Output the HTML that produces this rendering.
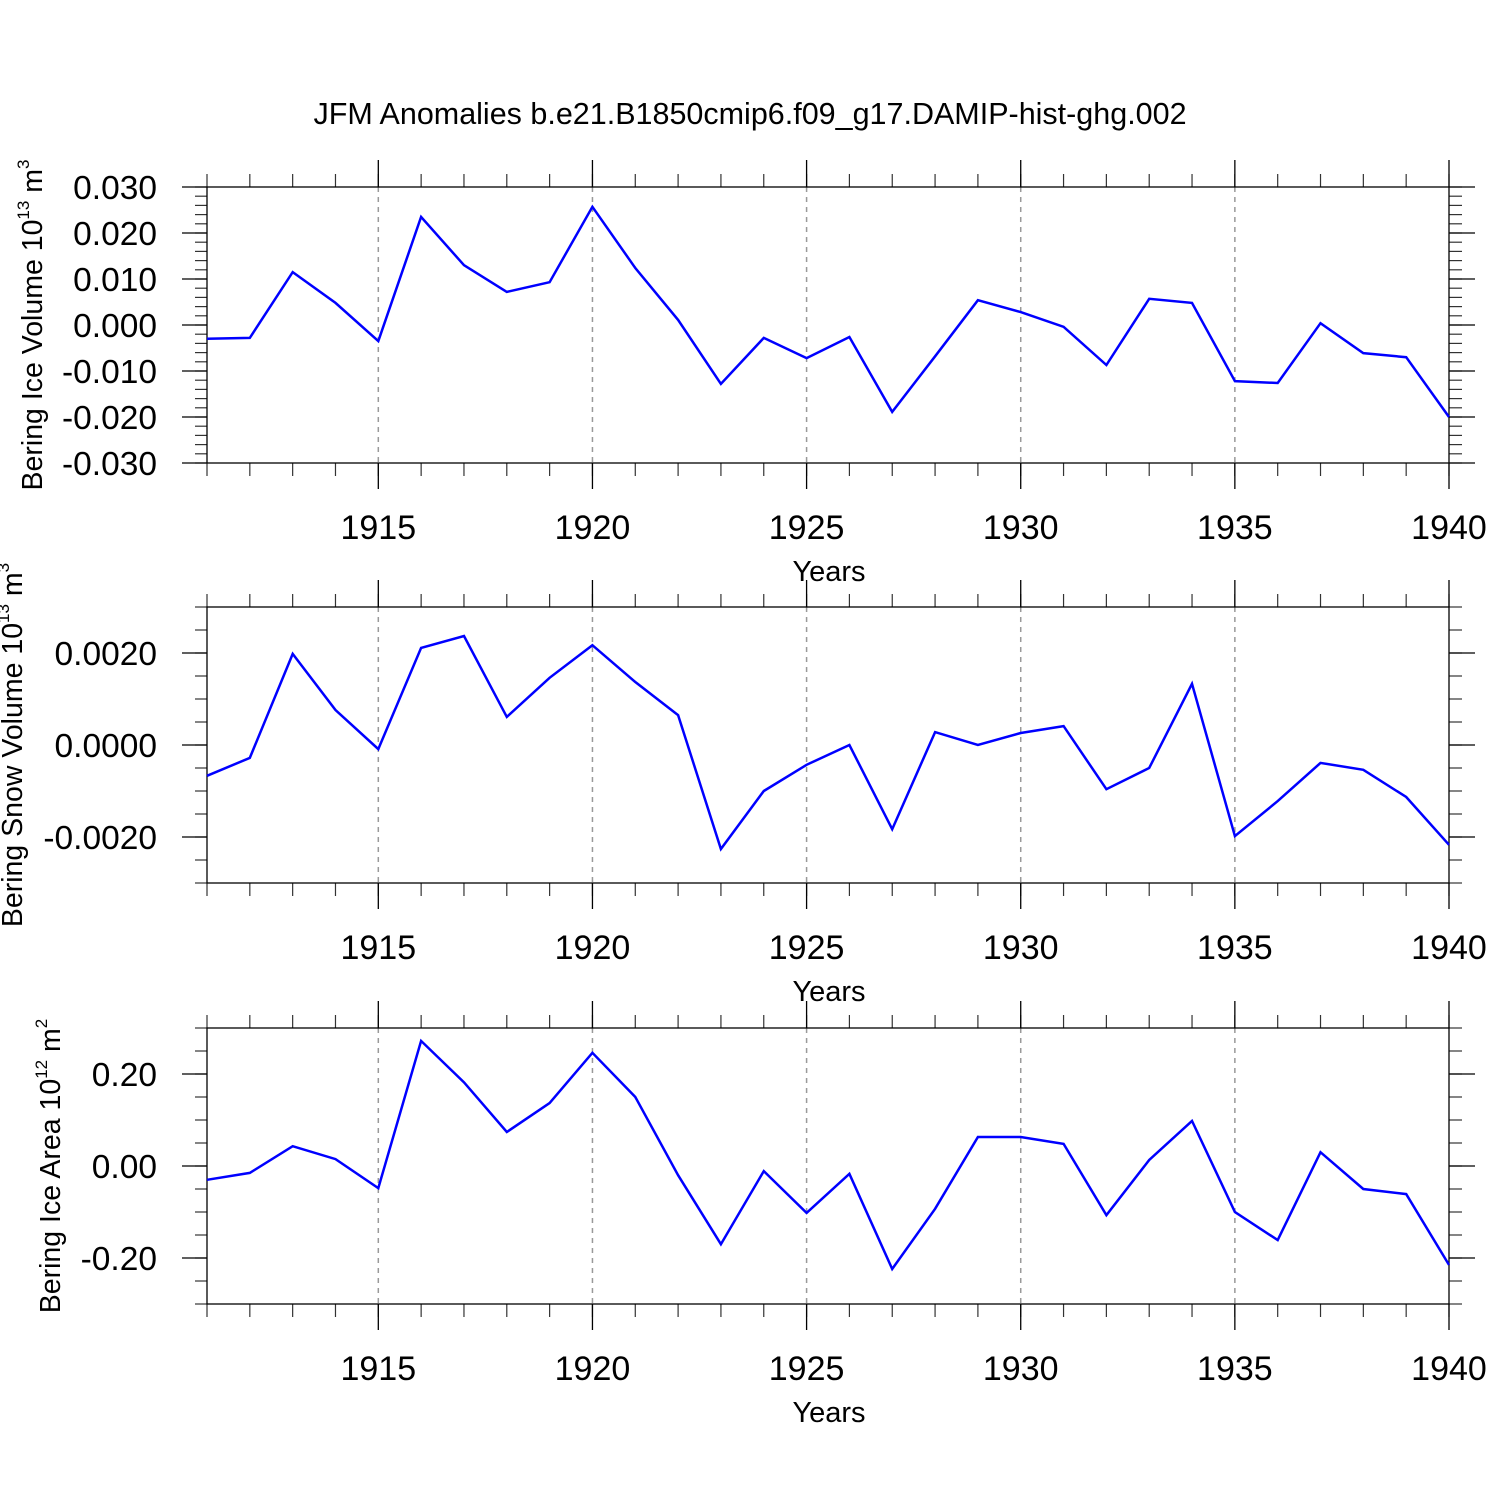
<!DOCTYPE html>
<html><head><meta charset="utf-8"><style>
body{margin:0;background:#fff}
svg{display:block;font-family:"Liberation Sans",sans-serif}
</style></head><body>
<svg id="chart" width="1500" height="1500" xmlns="http://www.w3.org/2000/svg">
<text x="750" y="124" font-size="30.5" text-anchor="middle">JFM Anomalies b.e21.B1850cmip6.f09_g17.DAMIP-hist-ghg.002</text>
</svg>
<script>
const years = [1911,1912,1913,1914,1915,1916,1917,1918,1919,1920,1921,1922,1923,1924,1925,1926,1927,1928,1929,1930,1931,1932,1933,1934,1935,1936,1937,1938,1939,1940];
const iceVolume = [-0.0030,-0.0028,0.0115,0.0048,-0.0035,0.0235,0.0130,0.0072,0.0093,0.0257,0.0124,0.0011,-0.0128,-0.0028,-0.0072,-0.0026,-0.0189,-0.0068,0.0054,0.0028,-0.0004,-0.0087,0.0057,0.0048,-0.0122,-0.0126,0.0004,-0.0061,-0.0070,-0.0200];
const snowVolume = [-0.00067,-0.00028,0.00198,0.00076,-0.00009,0.00211,0.00237,0.00061,0.00146,0.00217,0.00137,0.00065,-0.00226,-0.00100,-0.00043,0.0,-0.00183,0.00028,0.0,0.00026,0.00041,-0.00096,-0.00050,0.00133,-0.00198,-0.00122,-0.00039,-0.00054,-0.00113,-0.00217];
const iceArea = [-0.030,-0.015,0.043,0.015,-0.048,0.272,0.182,0.074,0.137,0.246,0.150,-0.020,-0.170,-0.011,-0.102,-0.017,-0.224,-0.093,0.063,0.063,0.048,-0.107,0.013,0.098,-0.100,-0.161,0.030,-0.050,-0.061,-0.215];
const xTickLabels = ["1915","1920","1925","1930","1935","1940"];
const yTicks1 = ["0.030","0.020","0.010","0.000","-0.010","-0.020","-0.030"];
const yTicks2 = ["0.0020","0.0000","-0.0020"];
const yTicks3 = ["0.20","0.00","-0.20"];

const NS="http://www.w3.org/2000/svg";
const svg=document.getElementById('chart');
function mk(tag,attrs,parent){const e=document.createElementNS(NS,tag);for(const k in attrs)e.setAttribute(k,attrs[k]);(parent||svg).appendChild(e);return e;}
const X0=207,X1=1449,XMIN=1911,XMAX=1940;
function xs(v){return X0+(v-XMIN)/(XMAX-XMIN)*(X1-X0);}

function panel(top,ymin,ymax,minorStep,ticks,data,title,titleX,sup,unit,name){
  const bot=top+276;
  const g=mk('g',{});
  
  
  const ys=v=>bot-(v-ymin)/(ymax-ymin)*(bot-top);
  xTickLabels.forEach(t=>{const x=xs(+t);if(x<X1-1){const l=mk('line',{x1:x,x2:x,y1:top,y2:bot,stroke:'#999','stroke-width':1.5,'stroke-dasharray':'5,5'},g);}});
  const n=Math.round((ymax-ymin)/minorStep);
  for(let i=0;i<=n;i++){const y=ys(ymin+i*minorStep);
    mk('line',{x1:X0-12,x2:X0,y1:y,y2:y,stroke:'#333','stroke-width':1.2},g);
    mk('line',{x1:X1,x2:X1+13,y1:y,y2:y,stroke:'#333','stroke-width':1.2},g);}
  ticks.forEach(t=>{const y=ys(parseFloat(t));
    mk('line',{x1:X0-25,x2:X0,y1:y,y2:y,stroke:'#000','stroke-width':1.3},g);
    mk('line',{x1:X1,x2:X1+26,y1:y,y2:y,stroke:'#000','stroke-width':1.3},g);
    const tx=mk('text',{x:157,y:y+12,'font-size':33.5,'text-anchor':'end'},g);tx.textContent=t;
    });
  years.forEach(yr=>{const x=xs(yr);
    mk('line',{x1:x,x2:x,y1:top-13,y2:top,stroke:'#333','stroke-width':1.2},g);
    mk('line',{x1:x,x2:x,y1:bot,y2:bot+13,stroke:'#333','stroke-width':1.2},g);});
  xTickLabels.forEach(t=>{const x=xs(+t);
    mk('line',{x1:x,x2:x,y1:top-27,y2:top,stroke:'#000','stroke-width':1.3},g);
    mk('line',{x1:x,x2:x,y1:bot,y2:bot+26,stroke:'#000','stroke-width':1.3},g);
    const tx=mk('text',{x:x,y:bot+76,'font-size':34,'text-anchor':'middle'},g);tx.textContent=t;
    });
  const fr=mk('rect',{x:X0,y:top,width:X1-X0,height:bot-top,fill:'none',stroke:'#000','stroke-width':1.3},g);
  
  const pts=data.map((v,i)=>xs(years[i]).toFixed(1)+','+ys(v).toFixed(1)).join(' ');
  const pl=mk('polyline',{points:pts,fill:'none',stroke:'#0000ff','stroke-width':2.5,'stroke-linejoin':'miter'},g);
  
  const xt=mk('text',{x:829,y:bot+118,'font-size':29,'text-anchor':'middle'},g);xt.textContent='Years';
  
  const cy=(top+bot)/2;
  const yt=mk('text',{x:0,y:0,'font-size':28.5,'text-anchor':'middle',transform:`translate(${titleX},${cy}) rotate(-90)`},g);
  
  const s1=mk('tspan',{},yt);s1.textContent=title+' 10';
  const s2=mk('tspan',{'font-size':17,dy:-13},yt);s2.textContent=sup;
  const s3=mk('tspan',{dy:13},yt);s3.textContent=' '+unit;
  const s4=mk('tspan',{'font-size':17,dy:-13},yt);s4.textContent=sup==='12'?'2':'3';
}
panel(187,-0.030,0.030,0.002,yTicks1,iceVolume,'Bering Ice Volume',42,'13','m','panel-ice-volume');
panel(607,-0.003,0.003,0.0005,yTicks2,snowVolume,'Bering Snow Volume',22,'13','m','panel-snow-volume');
panel(1028,-0.30,0.30,0.05,yTicks3,iceArea,'Bering Ice Area',60,'12','m','panel-ice-area');
</script>
</body></html>
